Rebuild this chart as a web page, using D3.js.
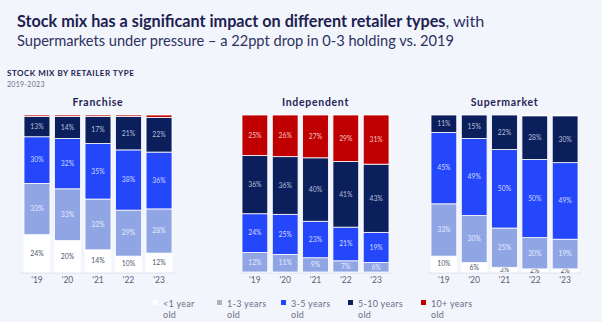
<!DOCTYPE html>
<html lang="en">
<head>
<meta charset="utf-8">
<script src="https://d3js.org/d3.v7.min.js"></script>
<style>
  body { margin: 0; background: #f3f5fd; }
  text { font-family: Lato, "Noto Sans", sans-serif; }
</style>
</head>
<body>
<script>
  var width = 602;
  var height = 322;

  // categories
  var years = ["'19", "'20", "'21", "'22", "'23"];
  var bands = ["<1 year old", "1-3 years old", "3-5 years old", "5-10 years old", "10+ years old"];
  var retailers = ["Franchise", "Independent", "Supermarket"];

  // series values (%), one row per age band, bottom to top
  var franchise = [
    [24, 20, 14, 10, 12],
    [33, 33, 32, 29, 28],
    [30, 32, 35, 38, 36],
    [13, 14, 17, 21, 22],
    [1, 1, 1, 1, 1.5]
  ];
  var independent = [
    [0, 0, 0, 0, 0],
    [12, 11, 9, 7, 6],
    [24, 25, 23, 21, 19],
    [36, 36, 40, 41, 43],
    [25, 26, 27, 29, 31]
  ];
  var supermarket = [
    [10, 6, 3, 2, 2],
    [33, 30, 25, 20, 19],
    [45, 49, 50, 50, 49],
    [11, 15, 22, 28, 30],
    [0, 0, 0, 0.5, 0.5]
  ];

  var colours = ["#ffffff", "#8fa5e4", "#2447fb", "#0b1f5c", "#c00000"];
  var labelColours = ["#50556b", "#e6ebff", "#cfd7ff", "#b7bfd9", "#f4c2c2"];
  var legendColours = ["#ffffff", "#b3b3b3", "#2447fb", "#0b1f5c", "#c00000"];

  var svg = d3.select("body")
              .append("svg")
              .attr("width", width)
              .attr("height", height);

  svg.append("rect")
     .attr("width", width)
     .attr("height", height)
     .attr("fill", "#f3f5fd");

  // headline
  var head = svg.append("text")
                .attr("x", 17)
                .attr("y", 27)
                .attr("font-size", 16.2)
                .attr("fill", "#1b2150");
  head.append("tspan").attr("font-weight", 700).text("Stock mix has a significant impact on different retailer types");
  head.append("tspan").attr("font-weight", 400).attr("fill", "#2c3160").text(", with");
  svg.append("text")
     .attr("x", 17)
     .attr("y", 46)
     .attr("font-size", 16.2)
     .attr("fill", "#2c3160")
     .attr("textLength", 437)
     .attr("lengthAdjust", "spacingAndGlyphs")
     .text("Supermarkets under pressure \u2013 a 22ppt drop in 0-3 holding vs. 2019");

  svg.append("text")
     .attr("x", 7)
     .attr("y", 76)
     .attr("font-size", 8)
     .attr("font-weight", 700)
     .attr("letter-spacing", 0.5)
     .attr("fill", "#1b2150")
     .text("STOCK MIX BY RETAILER TYPE");
  svg.append("text")
     .attr("x", 7)
     .attr("y", 87)
     .attr("font-size", 7)
     .attr("letter-spacing", 0.3)
     .attr("fill", "#6a6f85")
     .text("2019-2023");

  var panels = [
    { name: retailers[0], data: franchise,   x0: 24,  x1: 172 },
    { name: retailers[1], data: independent, x0: 242, x1: 389 },
    { name: retailers[2], data: supermarket, x0: 431, x1: 578 }
  ];

  var y = d3.scaleLinear().domain([0, 1]).range([272, 115]);

  panels.forEach(function(p) {
    var x = d3.scaleBand()
              .domain(years)
              .range([p.x0, p.x1])
              .paddingInner(0.15)
              .paddingOuter(0);

    var rows = years.map(function(yr, i) {
      var r = { year: yr };
      bands.forEach(function(b, k) { r[b] = p.data[k][i]; });
      return r;
    });
    var totals = rows.map(function(r) { return d3.sum(bands, function(b) { return r[b]; }); });
    var stacked = d3.stack().keys(bands)(rows);

    var g = svg.append("g");

    g.append("line")
     .attr("x1", p.x0 - 3)
     .attr("x2", p.x1 + 3)
     .attr("y1", y(0) + 1)
     .attr("y2", y(0) + 1)
     .attr("stroke", "#dde0ea")
     .attr("stroke-width", 1);

    g.append("text")
     .attr("x", (p.x0 + p.x1) / 2)
     .attr("y", 106)
     .attr("text-anchor", "middle")
     .attr("font-size", 10.5)
     .attr("font-weight", 700)
     .attr("letter-spacing", 0.7)
     .attr("fill", "#1f2454")
     .text(p.name);

    stacked.forEach(function(layer, k) {
      g.selectAll(null)
       .data(layer.filter(function(d) { return d[1] > d[0]; }))
       .enter()
       .append("rect")
       .attr("x", function(d) { return x(d.data.year); })
       .attr("width", x.bandwidth())
       .attr("y", function(d) { return y(d[1] / totals[years.indexOf(d.data.year)]); })
       .attr("height", function(d) {
         var t = totals[years.indexOf(d.data.year)];
         return y(d[0] / t) - y(d[1] / t);
       })
       .attr("fill", colours[k])
       .attr("stroke", "#ffffff")
       .attr("stroke-width", 0.8);

      g.selectAll(null)
       .data(layer.filter(function(d) { return d[1] - d[0] >= 2; }))
       .enter()
       .append("text")
       .attr("x", function(d) { return x(d.data.year) + x.bandwidth() / 2; })
       .attr("y", function(d) {
         var i = years.indexOf(d.data.year);
         return y((d[0] + d[1]) / 2 / totals[i]) + 2.3;
       })
       .attr("text-anchor", "middle")
       .attr("font-size", 6.8)
       .attr("fill", labelColours[k])
       .text(function(d) { return Math.round(d[1] - d[0]) + "%"; });
    });

    g.selectAll(null)
     .data(years)
     .enter()
     .append("text")
     .attr("x", function(d) { return x(d) + x.bandwidth() / 2; })
     .attr("y", 283)
     .attr("text-anchor", "middle")
     .attr("font-size", 8.5)
     .attr("fill", "#5a5f75")
     .text(function(d) { return d; });
  });

  // legend
  var legendX = [153, 217, 281, 348, 421];
  bands.forEach(function(b, k) {
    var parts = b.split(" ");
    var line1 = parts.slice(0, -1).join(" ");
    svg.append("rect")
       .attr("x", legendX[k])
       .attr("y", 300)
       .attr("width", 5)
       .attr("height", 5)
       .attr("fill", legendColours[k]);
    var t = svg.append("text")
               .attr("x", legendX[k] + 10)
               .attr("y", 307)
               .attr("font-size", 9)
               .attr("letter-spacing", 0.3)
               .attr("fill", "#6a6f85");
    t.append("tspan").text(line1);
    t.append("tspan").attr("x", legendX[k] + 10).attr("dy", 11).text(parts[parts.length - 1]);
  });
</script>
</body>
</html>
